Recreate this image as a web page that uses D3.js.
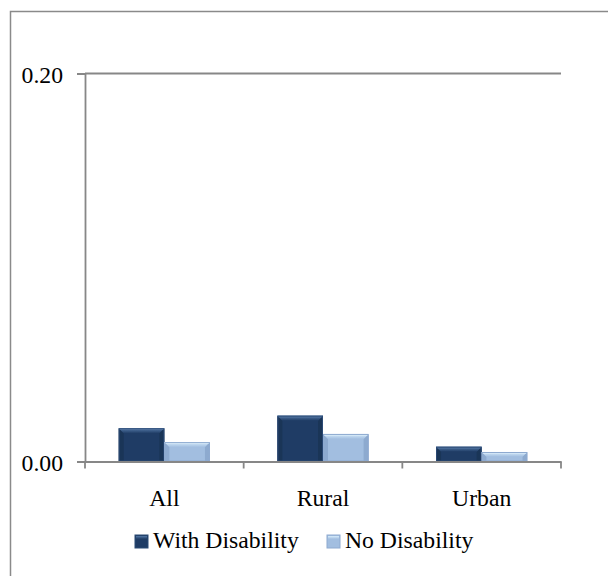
<!DOCTYPE html>
<html><head><meta charset="utf-8">
<script src="https://cdn.jsdelivr.net/npm/d3@7"></script>
<style>html,body{margin:0;padding:0;background:#fff;}svg{display:block;}</style>
</head><body>
<script>
const categories = ["All", "Rural", "Urban"];
const seriesNames = ["With Disability", "No Disability"];
const withDisability = [0.0171, 0.0236, 0.0076];
const noDisability = [0.0100, 0.0142, 0.0049];
const yTicks = [0.00, 0.20];
const yTickLabels = ["0.00", "0.20"];

const W = 608, H = 576;
const m = {left: 85, right: 47, top: 73.5, bottom: 114.5};
const svg = d3.select("body").append("svg").attr("width", W).attr("height", H);

const font = "'Liberation Serif','Times New Roman',serif";
const fs = 23.7;

// outer frame (extends beyond viewport on right/bottom)
svg.append("rect").attr("x", 10.5).attr("y", 11.5).attr("width", W + 20).attr("height", H + 20)
  .attr("fill", "none").attr("stroke", "#8a8a8a").attr("stroke-width", 1.5);

const x0 = d3.scaleBand().domain(categories).range([m.left, W - m.right]).paddingInner(0).paddingOuter(0);
const x1 = d3.scaleBand().domain(seriesNames).range([0, x0.bandwidth() * 0.575]);
const y = d3.scaleLinear().domain([0, 0.20]).range([H - m.bottom, m.top]);

const axisColor = "#878787";
const g = svg.append("g");

// gridline at top value
g.append("line").attr("x1", m.left).attr("x2", W - m.right)
  .attr("y1", y(0.20)).attr("y2", y(0.20)).attr("stroke", axisColor).attr("stroke-width", 1.8);

// y axis
const yAxis = d3.axisLeft(y).tickValues(yTicks).tickSize(8).tickFormat((d, i) => yTickLabels[i]);
const ya = g.append("g").attr("transform", `translate(${m.left},0)`).call(yAxis);
ya.select(".domain").attr("stroke", axisColor).attr("stroke-width", 1.8);
ya.selectAll(".tick line").attr("stroke", axisColor).attr("stroke-width", 1.8);
ya.selectAll(".tick text").attr("font-family", font).attr("font-size", fs).attr("fill", "#000")
  .attr("x", -22).attr("text-anchor", "end").attr("dy", "0.36em");

// colours
const pal = {
  "With Disability": {main: "#1f3c65", top: "#5378a6", topHi: "#6d8fbb", side: "#17304f", edge: "#2b4a75"},
  "No Disability": {main: "#a2bee0", top: "#d6ecfb", topHi: "#eef8ff", side: "#7e9cc3", edge: "#8eaad0"}
};

const defs = svg.append("defs");
seriesNames.forEach((s, i) => {
  const gr = defs.append("linearGradient").attr("id", "tg" + i).attr("x1", 0).attr("x2", 0).attr("y1", 0).attr("y2", 1);
  gr.append("stop").attr("offset", "0%").attr("stop-color", pal[s].top);
  gr.append("stop").attr("offset", "100%").attr("stop-color", pal[s].main);
});

const series = [withDisability, noDisability];
const groupW = x1.range()[1];
categories.forEach((c, ci) => {
  const gx = x0(c) + (x0.bandwidth() - groupW) / 2;
  seriesNames.forEach((s, si) => {
    const v = series[si][ci];
    const bx = gx + x1(s), bw = x1.bandwidth();
    const by = y(v), bh = y(0) - y(v);
    const p = pal[s];
    const bev = Math.min(5, bh / 2);
    const bg = g.append("g");
    bg.append("rect").attr("x", bx).attr("y", by).attr("width", bw).attr("height", bh).attr("fill", p.main);
    bg.append("path").attr("d", `M${bx},${by} L${bx + bev},${by + bev} L${bx + bev},${by + bh} L${bx},${by + bh} Z`).attr("fill", p.side).attr("opacity", 0.6);
    bg.append("path").attr("d", `M${bx + bw},${by} L${bx + bw - bev},${by + bev} L${bx + bw - bev},${by + bh} L${bx + bw},${by + bh} Z`).attr("fill", p.side).attr("opacity", 0.6);
    bg.append("path").attr("d", `M${bx},${by} L${bx + bw},${by} L${bx + bw - bev},${by + bev} L${bx + bev},${by + bev} Z`).attr("fill", `url(#tg${si})`);
    bg.append("rect").attr("x", bx).attr("y", by).attr("width", bw).attr("height", Math.min(1.5, bh)).attr("fill", p.topHi).attr("opacity", 0.6);
    bg.append("rect").attr("x", bx + 0.5).attr("y", by + 0.5).attr("width", bw - 1).attr("height", bh - 1)
      .attr("fill", "none").attr("stroke", p.edge).attr("stroke-width", 1);
  });
});

// x axis
const xAxis = d3.axisBottom(x0).tickSize(0).tickSizeOuter(0);
const xa = g.append("g").attr("transform", `translate(0,${y(0)})`).call(xAxis);
xa.select(".domain").attr("stroke", axisColor).attr("stroke-width", 1.8);
xa.selectAll(".tick text").attr("font-family", font).attr("font-size", fs).attr("fill", "#000")
  .attr("y", 44).attr("dy", 0);
const bounds = categories.map(c => x0(c)).concat([x0.range()[1]]);
g.selectAll(".btick").data(bounds).enter().append("line")
  .attr("x1", d => d).attr("x2", d => d).attr("y1", y(0)).attr("y2", y(0) + 7)
  .attr("stroke", axisColor).attr("stroke-width", 1.8);

// legend
const leg = svg.append("g");
const legX = [135, 327];
seriesNames.forEach((s, i) => {
  const lx = legX[i], ly = 535;
  const p = pal[s];
  leg.append("rect").attr("x", lx).attr("y", ly).attr("width", 13).attr("height", 13).attr("fill", p.main).attr("stroke", p.edge);
  leg.append("rect").attr("x", lx + 1).attr("y", ly + 1).attr("width", 11).attr("height", 3).attr("fill", `url(#tg${i})`);
  leg.append("text").attr("x", lx + 18).attr("y", ly + 13).attr("font-family", font).attr("font-size", fs)
    .attr("fill", "#000").text(s);
});
</script>
</body></html>
